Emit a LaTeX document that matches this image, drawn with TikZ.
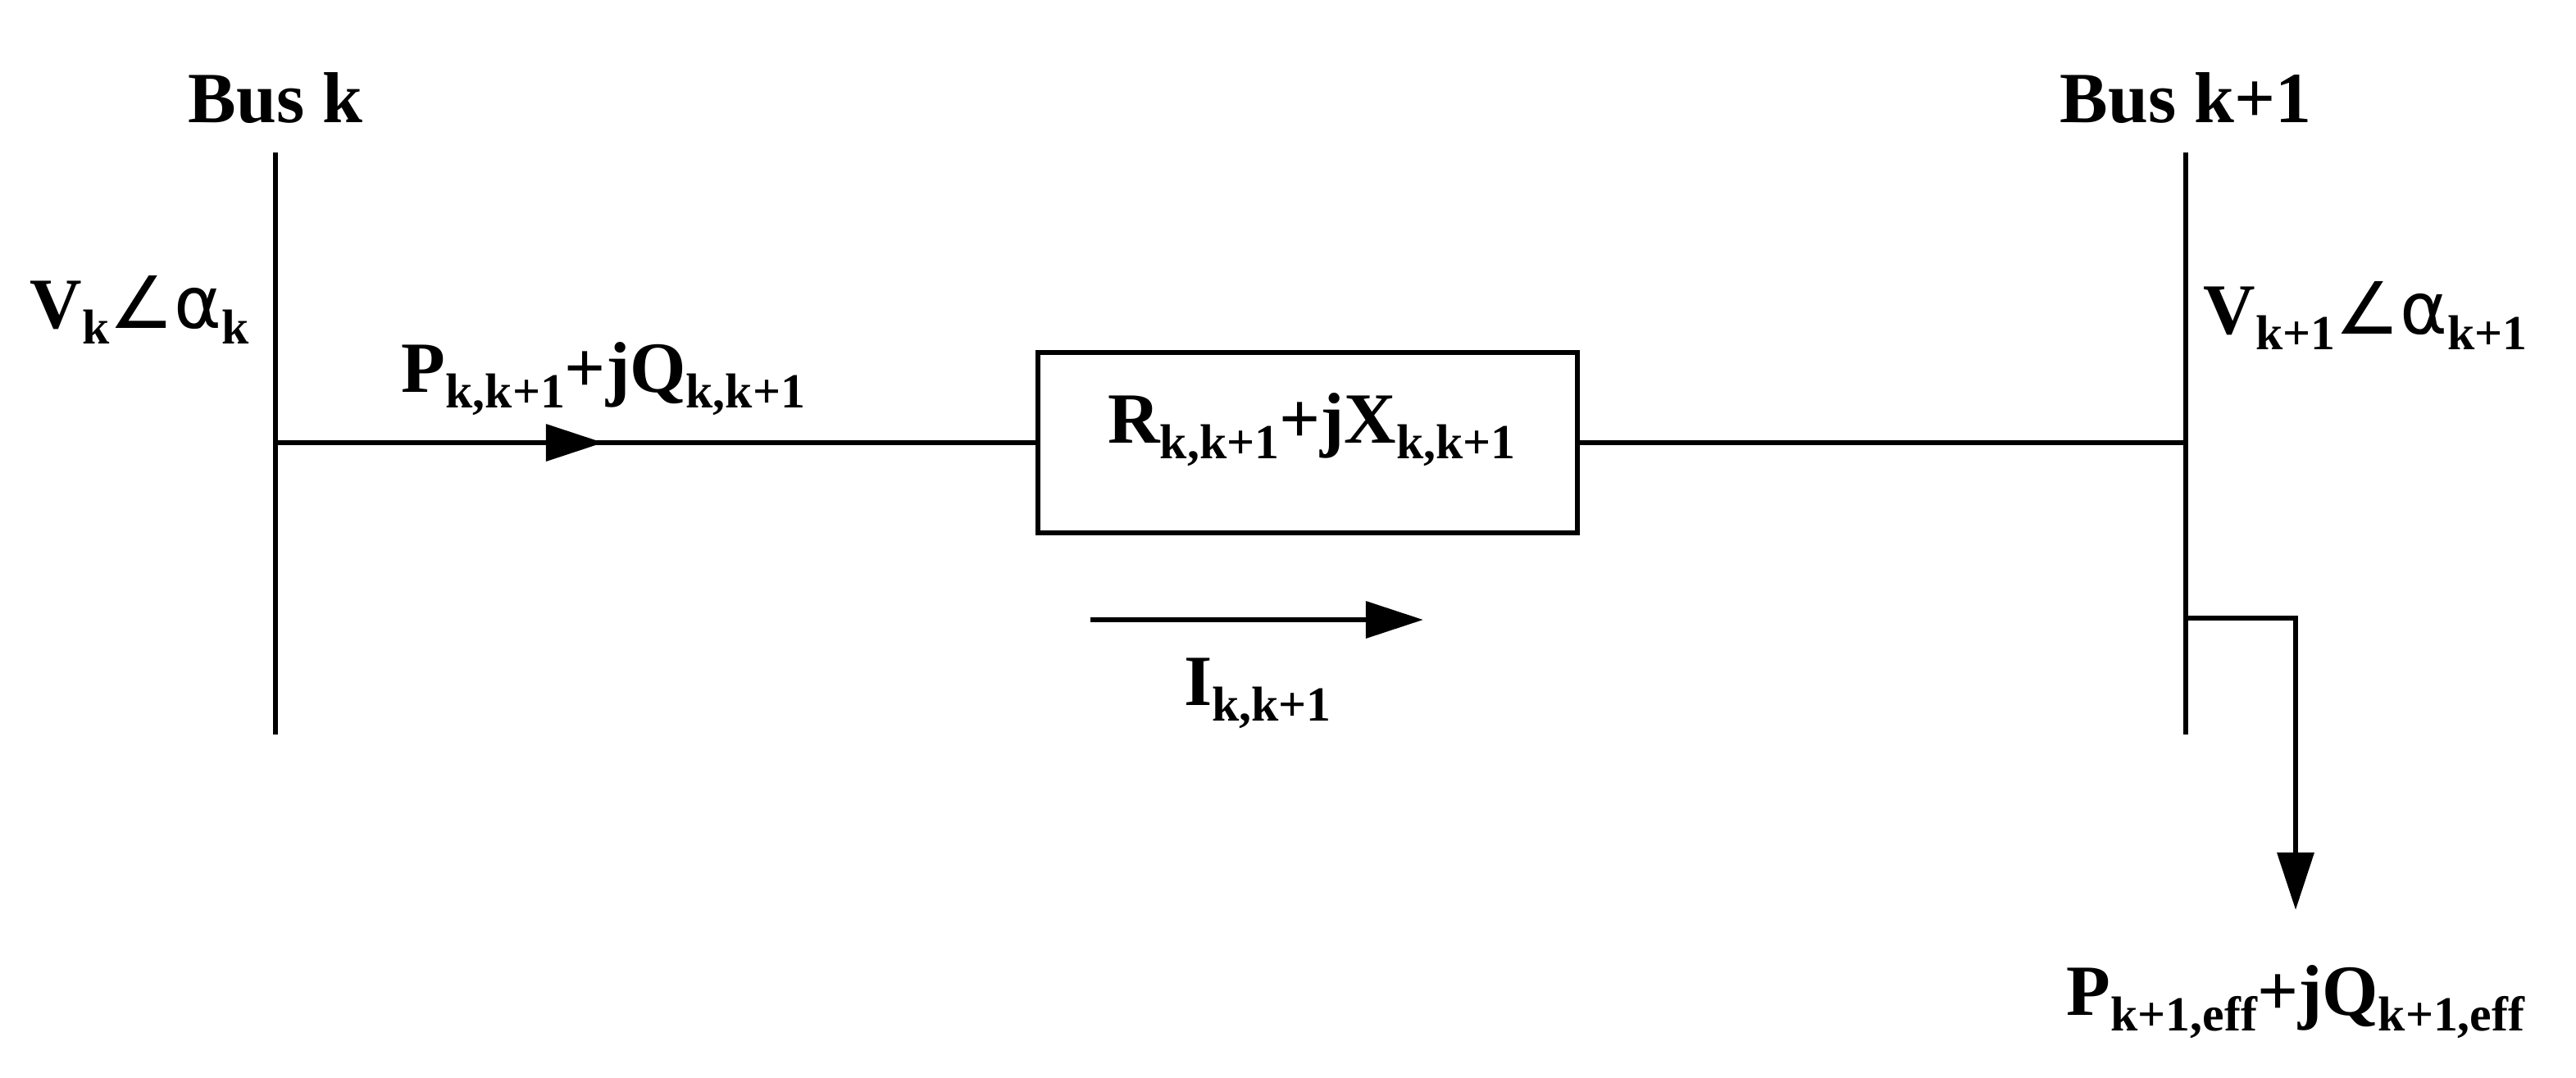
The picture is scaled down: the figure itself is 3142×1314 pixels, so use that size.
\documentclass[tikz,border=0pt]{standalone}
\usepackage{fontspec}
\setmainfont{Liberation Serif}
\newfontfamily\symf{DejaVu Sans}
\usetikzlibrary{arrows.meta}
\newcommand{\sbx}[1]{\raisebox{-0.22em}{\fontsize{17}{19}\selectfont #1}}
\newcommand{\ang}{{\symf\mdseries ∠α}}
\begin{document}
\begin{tikzpicture}[x=0.01cm,y=-0.01cm,
  ln/.style={line width=0.065cm},
  arr/.style={ln,-{Triangle[length=0.7cm,width=0.44cm]}},
  lbl/.style={font=\fontsize{25}{29}\selectfont\bfseries,inner sep=0pt}]
\useasboundingbox (0,0) rectangle (3142,1314);
\coordinate (k1) at (336,186); \coordinate (k2) at (336,896);
\coordinate (m1) at (2666,186); \coordinate (m2) at (2666,896);
\draw[ln] (k1) -- (k2);
\draw[ln] (m1) -- (m2);
\node[lbl] (bk) at (336,120) {Bus k};
\node[lbl] (bm) at (2666,120) {Bus k+1};
\node[lbl] (vk) at (170,378) {V\sbx{k}\ang\sbx{k}};
\node[lbl] (vm) at (2885,385) {V\sbx{k+1}\ang\sbx{k+1}};
\node[ln,draw,minimum width=6.58cm,minimum height=2.2cm,inner sep=0pt] (box) at (1595,540) {};
\node[lbl] (bt) at (1600,524) {R\sbx{k,k+1}+jX\sbx{k,k+1}};
\coordinate (s) at (336,540); \coordinate (a) at (736,540); \coordinate (e) at (2666,540);
\draw[ln] (s) -- (box.west);
\draw[arr] (s) -- (a);
\draw[ln] (box.east) -- (e);
\node[lbl] (pl) at (736,462) {P\sbx{k,k+1}+jQ\sbx{k,k+1}};
\coordinate (i1) at (1330,756); \coordinate (i2) at (1736,756);
\draw[arr] (i1) -- (i2);
\node[lbl] (il) at (1534,846) {I\sbx{k,k+1}};
\coordinate (l0) at (2666,754); \coordinate (l1) at (2800,754); \coordinate (l2) at (2800,1110);
\draw[arr] (l0) -- (l1) -- (l2);
\node[lbl] (ll) at (2800,1222) {P\sbx{k+1,eff}+jQ\sbx{k+1,eff}};
\end{tikzpicture}
\end{document}
